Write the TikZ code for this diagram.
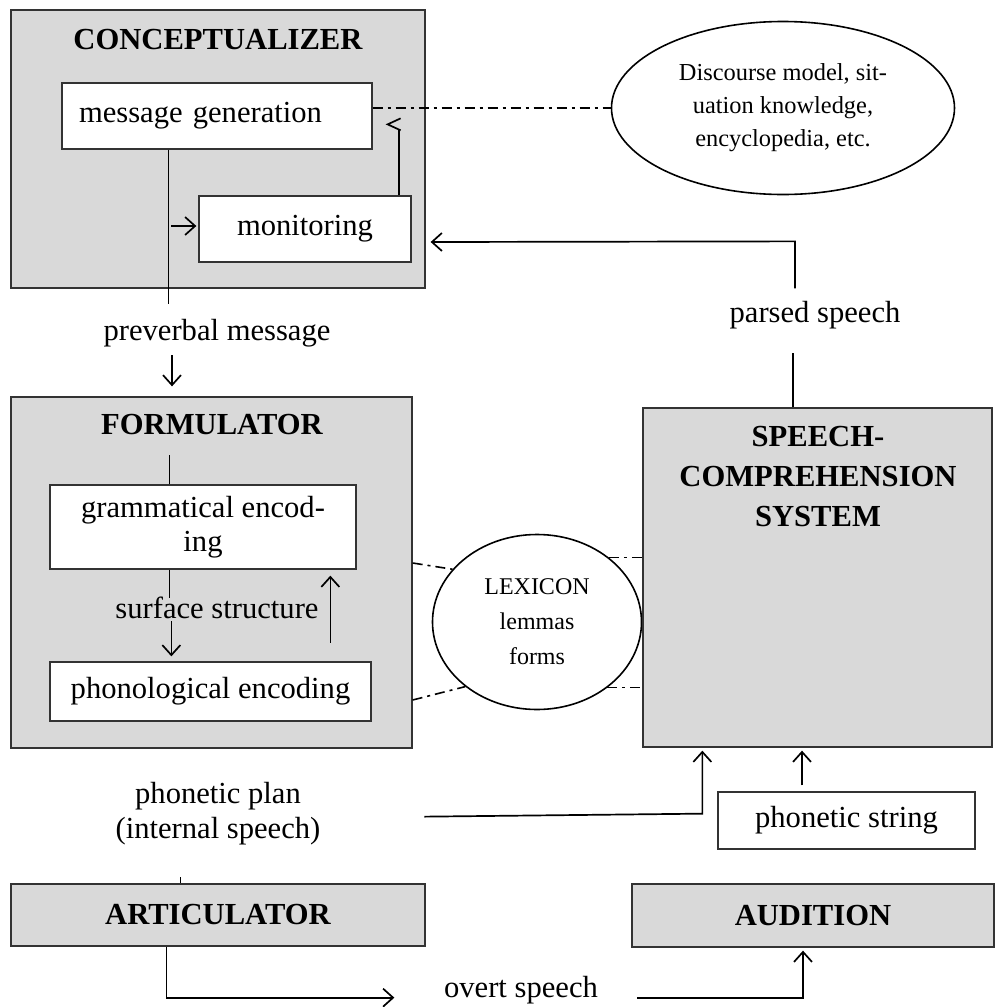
\documentclass[tikz,border=0pt]{standalone}
\usepackage{fontspec}
\setmainfont{Liberation Serif}
\usetikzlibrary{arrows.meta,shapes.geometric,calc}
\begin{document}
\begin{tikzpicture}[x=1pt,y=-1pt,
 big/.style={draw=black!80,line width=1.3pt,fill=gray!30,inner sep=0pt,rectangle},
 sbox/.style={draw=black!80,line width=1.3pt,fill=white,inner sep=0pt,rectangle},
 ell/.style={draw,ellipse,line width=1.6pt,inner sep=0pt,align=center},
 txt/.style={inner sep=0pt,align=center,font=\fontsize{30.6}{34}\selectfont},
 ttl/.style={inner sep=0pt,align=center,font=\fontsize{30.6}{40}\selectfont\bfseries},
 ln/.style={line width=1.7pt},
 arr/.style={line width=1.7pt,-{Straight Barb[length=10pt,width=18pt]}},
 dd/.style={line width=1.6pt,dash pattern=on 10pt off 5pt on 3pt off 5pt},
 ]
\useasboundingbox (0,0) rectangle (995,1007);

% Conceptualizer
\node[big,minimum width=414pt,minimum height=278pt] (conc) at (218,149) {};
\node[ttl] (concT) at (218,40) {CONCEPTUALIZER};
\node[sbox,minimum width=310pt,minimum height=66pt,text width=276pt,inner xsep=17pt,align=left,font=\fontsize{30.6}{34}\selectfont] (msg) at (217,116) {message generation};
\node[sbox,txt,minimum width=212pt,minimum height=66pt] (mon) at (305,229) {monitoring};
\node[ell,minimum width=343pt,minimum height=173pt,font=\fontsize{24.4}{33}\selectfont] (disc) at (783,108) {Discourse model, sit-\\uation knowledge,\\encyclopedia, etc.};
\draw[dd] (disc.west -| msg.east) -- (disc.west);
\draw[ln] ($(msg.south west)+(107,0)$) -- ++(0,154) coordinate (c1);
\draw[arr] ($(mon.west)+(-27,-3)$) -- ($(mon.west)+(-2,-3)$);
\draw[ln] ($(mon.north east)+(-13,0)$) -- ++(0,-65) coordinate (fb);
\draw[ln] ($(fb)+(2,-12)$) -- ++(-13,6) -- ++(13,6);

% preverbal
\node[txt] (prev) at (217,333) {preverbal message};

% Formulator
\node[big,minimum width=401pt,minimum height=351pt] (form) at (211.5,572.5) {};
\node[ttl] (formT) at (212,425) {FORMULATOR};
\draw[arr] ($(form.north)+(-39.5,-41)$) -- ++(0,31);
\node[sbox,txt,minimum width=306pt,minimum height=84pt] (gram) at (203,527) {grammatical encod-\\ing};
\node[sbox,txt,minimum width=321pt,minimum height=59pt] (phon) at (210.5,691.5) {phonological encoding};
\draw[ln] ($(gram.north west)+(120,0)$) -- ++(0,-29);
\draw[ln] ($(gram.south west)+(120,0)$) -- ++(0,28);
\node[txt] (surf) at (217,608) {surface structure};
\draw[arr] ($(phon.north west)+(122,-40)$) -- ++(0,35);
\draw[arr] ($(gram.south west)+(281,73)$) -- ++(0,-67);

% Lexicon
\node[ell,minimum width=209pt,minimum height=175pt,font=\fontsize{24}{35}\selectfont] (lex) at (537,622) {LEXICON\\lemmas\\forms};

% Speech comprehension
\node[big,minimum width=349pt,minimum height=339pt] (scs) at (817.5,577.5) {};
\node[ttl] (scsT) at (818,477) {SPEECH-\\COMPREHENSION\\SYSTEM};

\draw[dd] ($(form.east)+(0,-9.5)$) -- (lex.148);
\draw[dd] ($(form.east)+(0,127.5)$) -- (lex.222);
\draw[dd] (lex.42) -- (lex.42 -| scs.west);
\draw[dd] (lex.-43) -- (lex.-43 -| scs.west);

% parsed speech
\node[txt] (parsed) at (815,315) {parsed speech};
\draw[ln] ($(scs.north)+(-24.5,0)$) -- ++(0,-54);
\draw[arr] ($(scs.north)+(-22.5,-119)$) -- ++(0,-47) -- ($(mon.east)+(19,13)$);

% phonetic plan
\node[txt,font=\fontsize{30.6}{35}\selectfont] (plan) at (218,814) {phonetic plan\\(internal speech)};
\draw[arr] ($(scs.south west)+(-218,69)$) -- ($(scs.south west)+(60,66)$) -- ($(scs.south west)+(60,3)$);

% phonetic string
\node[sbox,txt,minimum width=257pt,minimum height=57pt] (phstr) at (846.5,820.5) {phonetic string};
\draw[arr] ($(phstr.north)+(-44.5,-6)$) -- ($(scs.south)+(-15.5,3)$);

% Articulator / Audition
\node[big,ttl,minimum width=414pt,minimum height=62pt] (artic) at (218,915) {ARTICULATOR};
\node[big,ttl,minimum width=362pt,minimum height=63pt] (audit) at (813,915.5) {AUDITION};
\draw[ln] ($(artic.north west)+(170,-6)$) -- ++(0,6);
\draw[arr] ($(artic.south west)+(156,0)$) -- ++(0,51) -- ++(228,0);
\node[txt] (overt) at (521,990) {overt speech};
\draw[arr] ($(audit.south)+(-176,50)$) -- ++(166,0) -- ($(audit.south)+(-10,3)$);
\end{tikzpicture}
\end{document}
